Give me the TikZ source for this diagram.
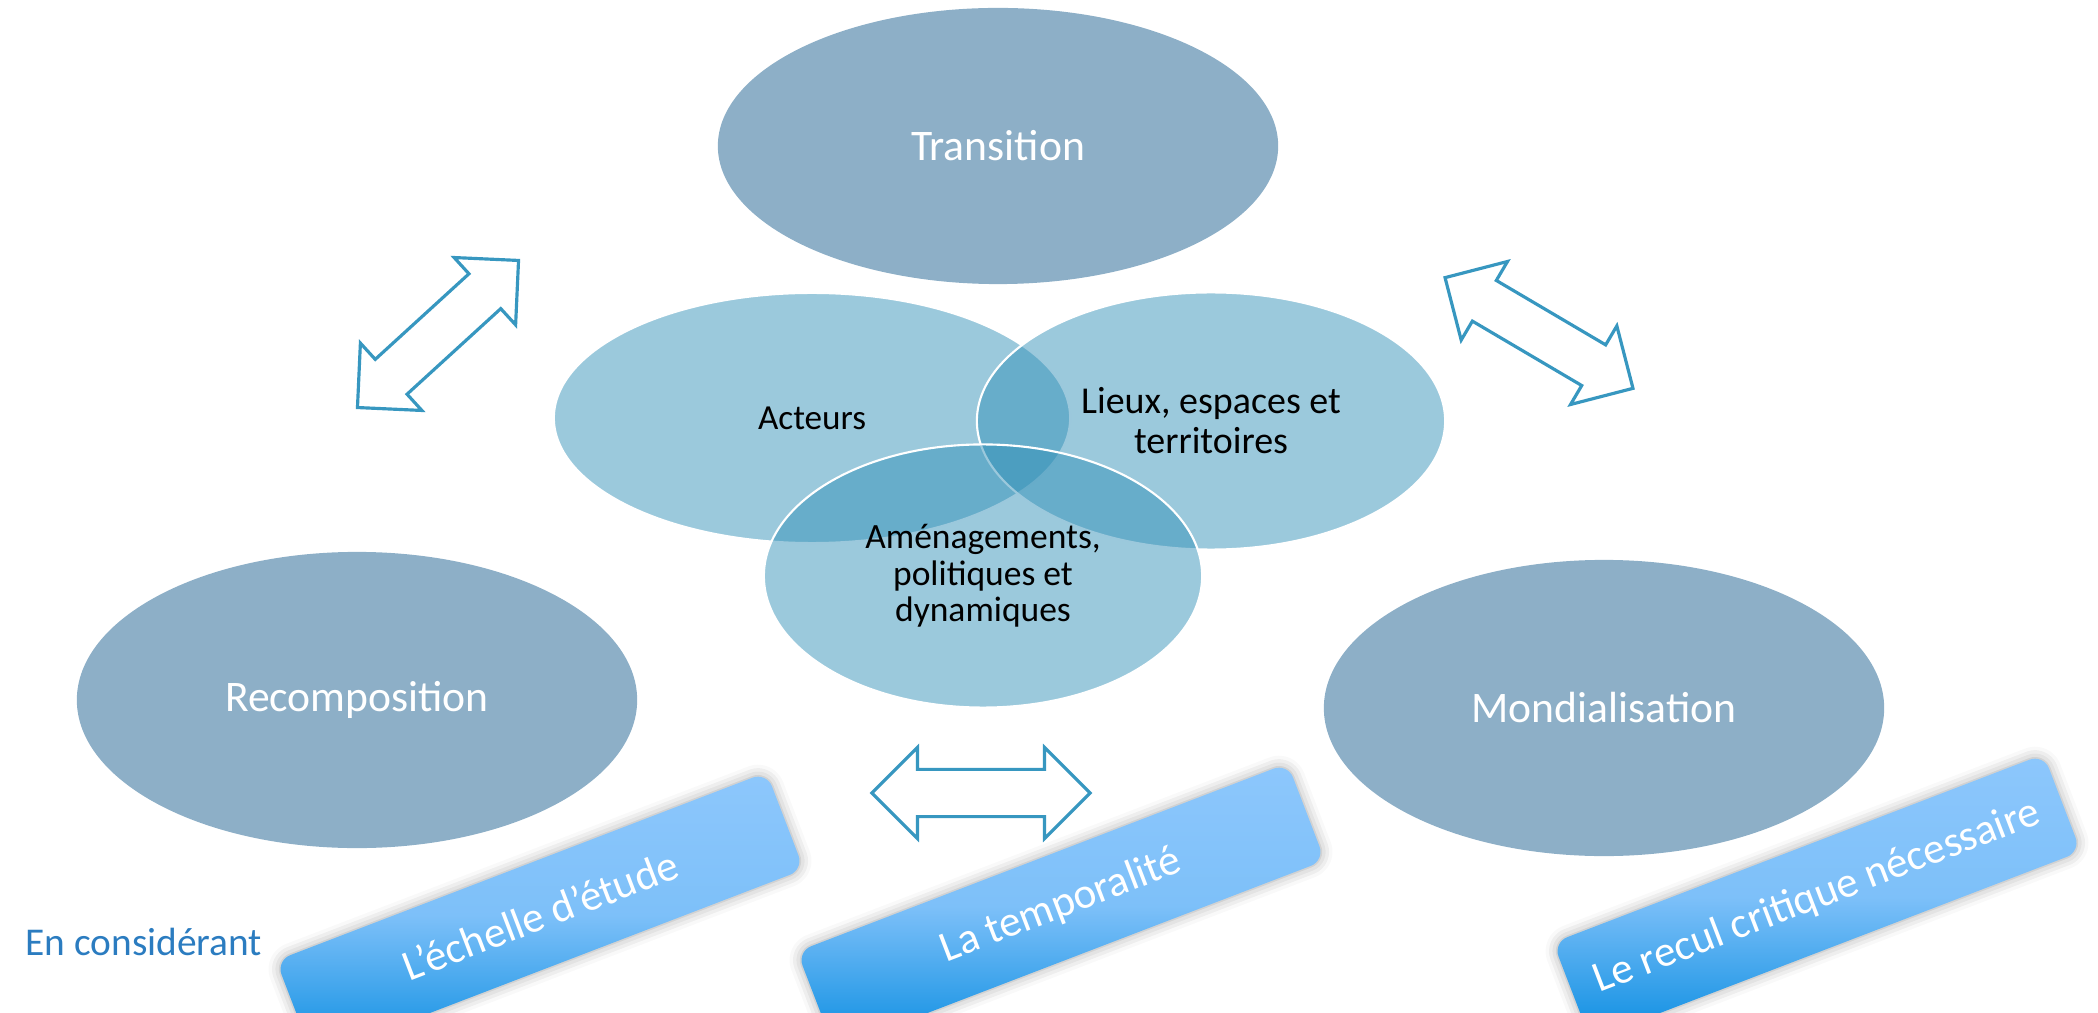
\documentclass[tikz,border=0pt]{standalone}
\usepackage{fontspec}
\setmainfont{Carlito}
\usetikzlibrary{shapes.geometric,shapes.arrows,shadows.blur}

\definecolor{grisbleu}{HTML}{8DAFC7}
\definecolor{vennbleu}{HTML}{2F8EB6}
\definecolor{flecheb}{HTML}{3797C0}
\definecolor{barreh}{HTML}{8DC7FC}
\definecolor{barreb}{HTML}{0A8DE1}
\definecolor{titreb}{HTML}{2B7CC0}

\tikzset{
  theme/.style={ellipse, fill=grisbleu, text=white, inner sep=0pt,
    font=\fontsize{12.4}{14}\selectfont},
  venn/.style={ellipse, fill=vennbleu, fill opacity=0.48, text opacity=1,
    draw=white, line width=0.6pt, inner sep=0pt, align=center},
  fleche/.style={double arrow, draw=flecheb, fill=white, line width=0.9pt,
    double arrow head extend=0.22cm, inner xsep=0pt, inner ysep=0.22cm,
    minimum width=0.88cm, minimum height=2.18cm},
  barre/.style={rectangle, rounded corners=0.15cm, minimum width=5.25cm,
    minimum height=1.04cm, top color=barreh, bottom color=barreb,
    middle color=barreh!88!barreb, text=white, rotate=21,
    font=\fontsize{12.3}{14}\selectfont,
    blur shadow={shadow xshift=0pt, shadow yshift=0pt,
      shadow blur radius=0.12cm, shadow opacity=35}}
}

\begin{document}
\begin{tikzpicture}[x=0.01cm,y=-0.01cm]
\useasboundingbox (0,0) rectangle (2098,1013);
% themes
\node[theme, minimum width=5.6cm, minimum height=2.76cm] (transition) at (998,146) {Transition};
\node[theme, minimum width=5.6cm, minimum height=2.96cm] (recompo) at (357,700) {Recomposition};
\node[theme, minimum width=5.6cm, minimum height=2.96cm] (mondial) at (1604,708) {Mondialisation};
% venn
\node[venn, minimum width=5.16cm, minimum height=2.5cm,
  font=\fontsize{10}{11}\selectfont] (acteurs) at (812,418) {Acteurs};
\node[venn, minimum width=4.68cm, minimum height=2.57cm,
  font=\fontsize{10.8}{11.4}\selectfont] (lieux) at (1211,421) {Lieux, espaces et\\territoires};
\node[venn, minimum width=4.38cm, minimum height=2.63cm,
  font=\fontsize{10.1}{10.4}\selectfont] (amenag) at (983,576) {Aménagements,\\politiques et\\dynamiques};
% fleches
\node[fleche, rotate=42.4] (f1) at (438,334) {};
\node[fleche] (f2) at (981,793) {};
\node[fleche, rotate=-30.5] (f3) at (1539,333) {};
% barres
\node[text=titreb, anchor=base west, font=\fontsize{11.2}{13}\selectfont] (considerant) at (13,955) {En considérant};
\node[barre] (echelle) at (540,915) {L’échelle d’étude};
\node[barre] (tempo) at (1061,906) {La temporalité};
\node[barre] (recul) at (1817,897) {Le recul critique nécessaire};
\end{tikzpicture}
\end{document}
